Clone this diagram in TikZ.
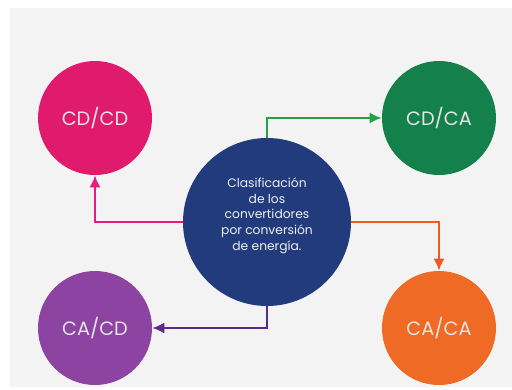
\documentclass[tikz,border=0pt]{standalone}
\usepackage{fontspec}
\setmainfont{Poppins}
\usetikzlibrary{arrows.meta}
\definecolor{convpanel}{HTML}{F3F3F3}
\definecolor{convnavy}{HTML}{213B7C}
\definecolor{convpink}{HTML}{E01A6C}
\definecolor{convgreen}{HTML}{14804B}
\definecolor{convpurple}{HTML}{8C43A2}
\definecolor{convorange}{HTML}{EF6A24}
\definecolor{linkpink}{HTML}{EC1A7C}
\definecolor{linkgreen}{HTML}{24A046}
\definecolor{linkpurple}{HTML}{5C2A8C}
\definecolor{linkorange}{HTML}{F05A22}

\begin{document}
\begin{tikzpicture}[
        >=Latex,
        link/.style={-{Latex[length=2.4mm,width=2.2mm]},line width=1.1pt},
        hub/.style={circle,minimum size=3.36cm,inner sep=0pt,fill=convnavy,
          font=\fontsize{7}{9}\selectfont,align=center,text=white!92!convnavy},
        kind/.style={circle,minimum size=2.28cm,inner sep=0pt,
          font=\fontsize{11}{13}\selectfont,text=white!90!black}
      ]
        \useasboundingbox (0,0) rectangle (10.24,7.78);
        \fill[white] (0,0) rectangle (10.24,7.78);
        \fill[convpanel] (0.2,0.04) rectangle (10.24,7.62);

        \node[hub] (clasif) at (5.34,3.34) {Clasificación\\de los\\convertidores\\por conversión\\de energía.\\ \mbox{}};

        \node[kind,fill=convpink] (cdcd) at (1.9,5.42) {CD/CD};
        \node[kind,fill=convgreen] (cdca) at (8.78,5.42) {CD/CA};
        \node[kind,fill=convpurple] (cacd) at (1.9,1.22) {CA/CD};
        \node[kind,fill=convorange] (caca) at (8.78,1.22) {CA/CA};

        \draw[link,draw=linkpink] (clasif.west) -| (cdcd.south);
        \draw[link,draw=linkgreen] (clasif.north) |- (cdca.west);
        \draw[link,draw=linkorange] (clasif.east) -| (caca.north);
        \draw[link,draw=linkpurple] (clasif.south) |- (cacd.east);
      \end{tikzpicture}
\end{document}
